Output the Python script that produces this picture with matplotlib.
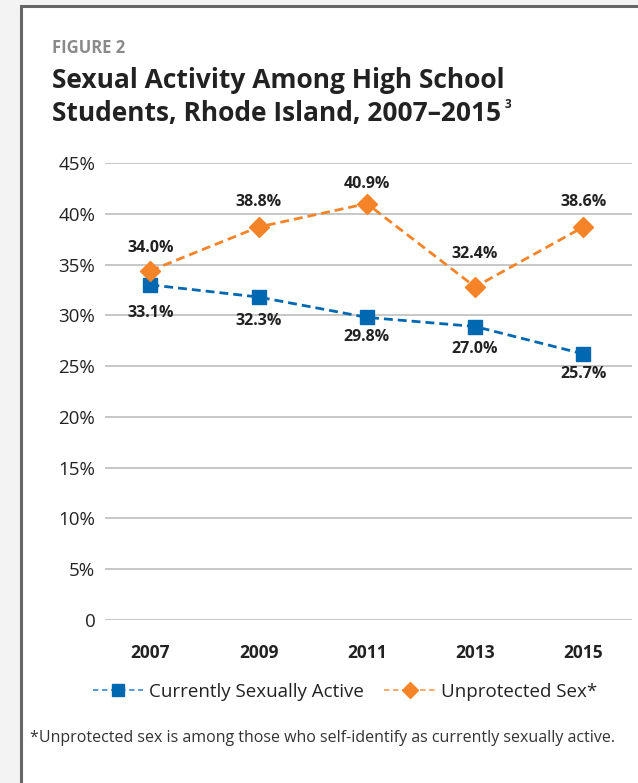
import matplotlib
matplotlib.use('Agg')
import matplotlib.pyplot as plt
from matplotlib.patches import Rectangle
from matplotlib.lines import Line2D

plt.rcParams['font.family'] = ['Open Sans', 'DejaVu Sans']

# data
years = ['2007', '2009', '2011', '2013', '2015']
active = [33.0, 31.8, 29.8, 28.9, 26.2]
unprotected = [34.4, 38.7, 41.0, 32.8, 38.7]
active_labels = ['33.1%', '32.3%', '29.8%', '27.0%', '25.7%']
unprotected_labels = ['34.0%', '38.8%', '40.9%', '32.4%', '38.6%']
yticks = [0, 5, 10, 15, 20, 25, 30, 35, 40, 45]
ytick_labels = ['0', '5%', '10%', '15%', '20%', '25%', '30%', '35%', '40%', '45%']

BLUE = '#0067b1'
ORANGE = '#f58428'
W, H = 638, 783

fig = plt.figure(figsize=(W / 100, H / 100), dpi=100, facecolor='#f2f3f2')

# white card with grey border
fig.add_artist(Rectangle((21 / W, -0.05), 1.0, 1 - 6 / H + 0.05,
                         transform=fig.transFigure, facecolor='white',
                         edgecolor='#666666', linewidth=2.2, zorder=0))

fig.text(52 / W, 1 - 48 / H, 'FIGURE 2', fontsize=12, fontweight='bold',
         color='#8a8a8a', va='center', ha='left')
fig.text(52 / W, 1 - 80 / H, 'Sexual Activity Among High School',
         fontsize=19, fontweight='bold', color='#222222', va='center', ha='left')
t2 = fig.text(52 / W, 1 - 113 / H, 'Students, Rhode Island, 2007\u20132015',
              fontsize=19, fontweight='bold', color='#222222', va='center', ha='left')
# superscript footnote mark right after the title
fig.canvas.draw()
bb = t2.get_window_extent()
fig.text((bb.x1 + 3) / W, 1 - 104 / H, '3', fontsize=8.5, fontweight='bold',
         color='#222222', va='center', ha='left')

ax = fig.add_axes([105 / W, 1 - 620 / H, (632 - 105) / W, (620 - 163) / H])
ax.set_facecolor('none')
x = list(range(len(years)))

ax.plot(x, active, linestyle='--', color=BLUE, linewidth=2, marker='s',
        markersize=10.5, markerfacecolor=BLUE, markeredgecolor=BLUE,
        dashes=(3.2, 1.8), clip_on=False, zorder=3)
ax.plot(x, unprotected, linestyle='--', color=ORANGE, linewidth=2, marker='D',
        markersize=10.5, markerfacecolor=ORANGE, markeredgecolor=ORANGE,
        dashes=(3.2, 1.8), clip_on=False, zorder=3)

below = [28, 24, 20, 22, 20]
above = [23, 25, 20, 33, 25]
for xi, v, lab, off in zip(x, active, active_labels, below):
    ax.annotate(lab, xy=(xi, v), xytext=(0, -off), textcoords='offset pixels',
                ha='center', va='center', fontsize=11.5, fontweight='bold',
                color='#222222')
for xi, v, lab, off in zip(x, unprotected, unprotected_labels, above):
    ax.annotate(lab, xy=(xi, v), xytext=(0, off), textcoords='offset pixels',
                ha='center', va='center', fontsize=11.5, fontweight='bold',
                color='#222222')

ax.set_xlim(-0.42, 4.45)
ax.set_ylim(0, 45)
ax.set_yticks(yticks)
ax.set_yticklabels(ytick_labels, fontsize=13.5, color='#222222')
ax.set_xticks(x)
ax.set_xticklabels(years, fontsize=12.5, fontweight='bold', color='#222222')
ax.tick_params(axis='y', length=0, pad=7)
ax.tick_params(axis='x', length=0, pad=17)
ax.grid(axis='y', color='#bdbdbd', linewidth=1.2)
ax.set_axisbelow(True)
for s in ax.spines.values():
    s.set_visible(False)

handles = [
    Line2D([], [], color='#4a90d0', linewidth=1.3, marker='s', dashes=(3, 2),
           markersize=8, markerfacecolor=BLUE, markeredgecolor=BLUE),
    Line2D([], [], color='#f7a25e', linewidth=1.3, marker='D', dashes=(3, 2),
           markersize=8, markerfacecolor=ORANGE, markeredgecolor=ORANGE),
]
fig.legend(handles, ['Currently Sexually Active', 'Unprotected Sex*'],
           loc='center', bbox_to_anchor=(345 / W, 1 - 692 / H), ncol=2,
           frameon=False, fontsize=13.5, handlelength=2.7, handletextpad=0.33,
           columnspacing=1.07, numpoints=1, labelcolor='#222222')

fig.text(30 / W, 1 - 738 / H,
         '*Unprotected sex is among those who self-identify as currently sexually active.',
         fontsize=11.5, color='#333333', va='center', ha='left')

fig.savefig('out.png', dpi=100, facecolor=fig.get_facecolor())
